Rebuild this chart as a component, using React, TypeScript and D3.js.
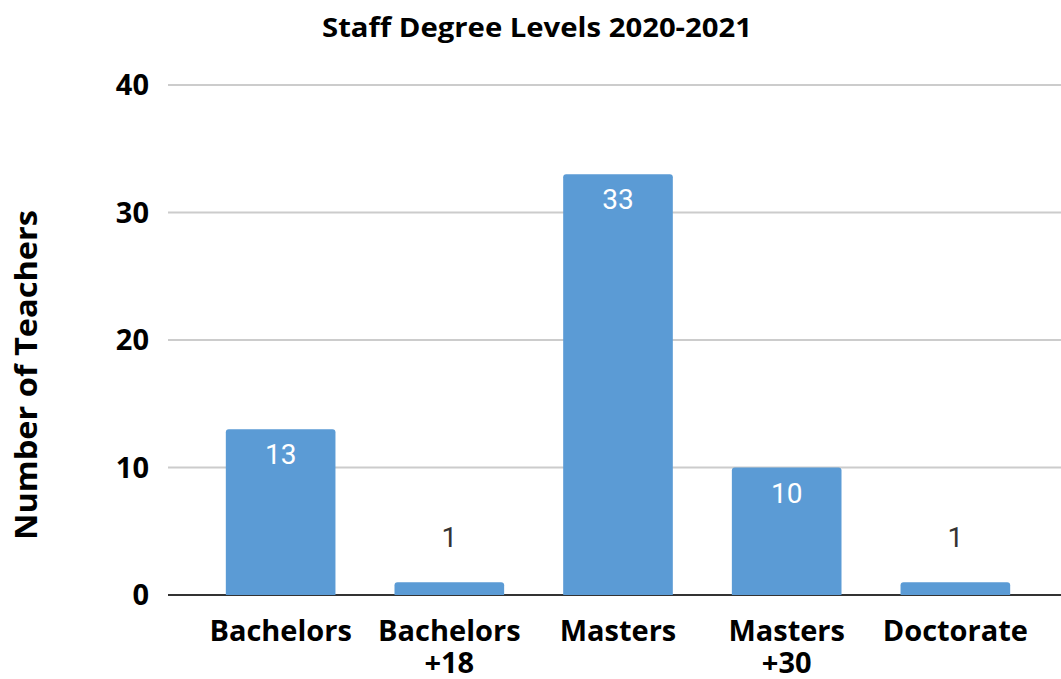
import React from "react";
import * as d3 from "d3";

const categories: string[][] = [["Bachelors"], ["Bachelors", "+18"], ["Masters"], ["Masters", "+30"], ["Doctorate"]];
const values: number[] = [13, 1, 33, 10, 1];
const yTicks: number[] = [0, 10, 20, 30, 40];
const title = "Staff Degree Levels 2020-2021";
const yTitle = "Number of Teachers";

const W = 1061;
const H = 679;

export default function App() {
  const keys = categories.map((c) => c.join(" "));
  const x = d3.scaleBand<string>().domain(keys).range([171, 1065]).paddingInner(0.35).paddingOuter(0.325);
  const y = d3.scaleLinear().domain([0, 40]).range([595, 85]);
  const gridX0 = 168;
  const gridX1 = W;
  const bw = x.bandwidth();
  const r = 3;
  const barPath = (x0: number, y0: number, w: number, h: number) => {
    const p = d3.path();
    const rr = Math.min(r, h / 2);
    p.moveTo(x0, y0 + h);
    p.lineTo(x0, y0 + rr);
    p.quadraticCurveTo(x0, y0, x0 + rr, y0);
    p.lineTo(x0 + w - rr, y0);
    p.quadraticCurveTo(x0 + w, y0, x0 + w, y0 + rr);
    p.lineTo(x0 + w, y0 + h);
    p.closePath();
    return p.toString();
  };
  const bold = "'Open Sans', 'DejaVu Sans', sans-serif";
  return (
    <div style={{ position: "absolute", left: 0, top: 0 }}>
      <svg width={W} height={H} style={{ display: "block", background: "#fff" }}>
        <rect width={W} height={H} fill="#fff" />
        <text x={537} y={37} textAnchor="middle" fontFamily={bold} fontWeight={700} fontSize={26} fill="#000" textLength={430} lengthAdjust="spacingAndGlyphs">
          {title}
        </text>
        {yTicks.map((t) => (
          <g key={t}>
            <line x1={gridX0} x2={gridX1} y1={y(t)} y2={y(t)} stroke={t === 0 ? "#333" : "#cccccc"} strokeWidth={2} />
            <text x={149} y={y(t) + 10} textAnchor="end" fontFamily={bold} fontWeight={700} fontSize={29} fill="#000">
              {t}
            </text>
          </g>
        ))}
        <text
          transform={`translate(37,375) rotate(-90)`}
          textAnchor="middle"
          fontFamily={bold}
          fontWeight={700}
          fontSize={31}
          fill="#000"
          textLength={330}
          lengthAdjust="spacingAndGlyphs"
        >
          {yTitle}
        </text>
        {values.map((v, i) => {
          const k = keys[i];
          const x0 = x(k) as number;
          const yt = y(v);
          const h = y(0) - yt;
          const inside = v >= 5;
          return (
            <g key={k}>
              <path d={barPath(x0, yt, bw, h)} fill="#5b9bd5" />
              <text
                x={x0 + bw / 2}
                y={inside ? yt + 35 : yt - 35}
                textAnchor="middle"
                fontFamily="Roboto, sans-serif"
                fontSize={28}
                fill={inside ? "#ffffff" : "#333333"}
              >
                {v}
              </text>
            </g>
          );
        })}
        {categories.map((lines, i) => {
          const cx = (x(keys[i]) as number) + bw / 2;
          return (
            <text key={keys[i]} x={cx} textAnchor="middle" fontFamily={bold} fontWeight={700} fontSize={29} fill="#000">
              {lines.map((l, j) => (
                <tspan key={j} x={cx} y={641 + j * 32}>
                  {l}
                </tspan>
              ))}
            </text>
          );
        })}
      </svg>
    </div>
  );
}
